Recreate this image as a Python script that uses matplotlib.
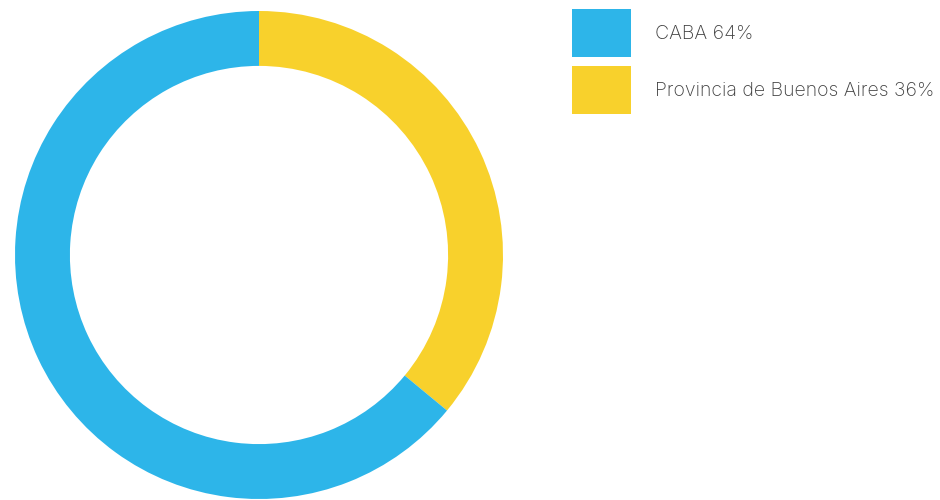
import matplotlib
matplotlib.use("Agg")
import matplotlib.pyplot as plt
from matplotlib.patches import Rectangle

labels = ["CABA", "Provincia de Buenos Aires"]
values = [64, 36]
colors = ["#2DB5E9", "#F8D12C"]

fig = plt.figure(figsize=(9.4, 5), dpi=100)
ax = fig.add_axes([15/940, 1/500, 488/940, 488/500])
ax.pie(values[::-1], colors=colors[::-1], startangle=90, counterclock=False,
       radius=1, wedgeprops=dict(width=0.225, edgecolor="none"))
ax.set_xlim(-1, 1)
ax.set_ylim(-1, 1)
ax.set_aspect("equal")
ax.axis("off")

# legend
W, H = 940, 500
boxes = [(572, 9), (572, 66)]
for (x, y), lab, v, c in zip(boxes, labels, values, colors):
    fig.patches.append(Rectangle((x / W, 1 - (y + 48) / H), 59 / W, 48 / H,
                                 transform=fig.transFigure, facecolor=c, edgecolor="none"))
    fig.text(655 / W, 1 - (y + 25) / H, f"{lab} {v}%", fontsize=14, color="#404040",
             family=["Inter", "DejaVu Sans"], fontweight="light", va="center", ha="left")

fig.savefig("out.png", dpi=100)
